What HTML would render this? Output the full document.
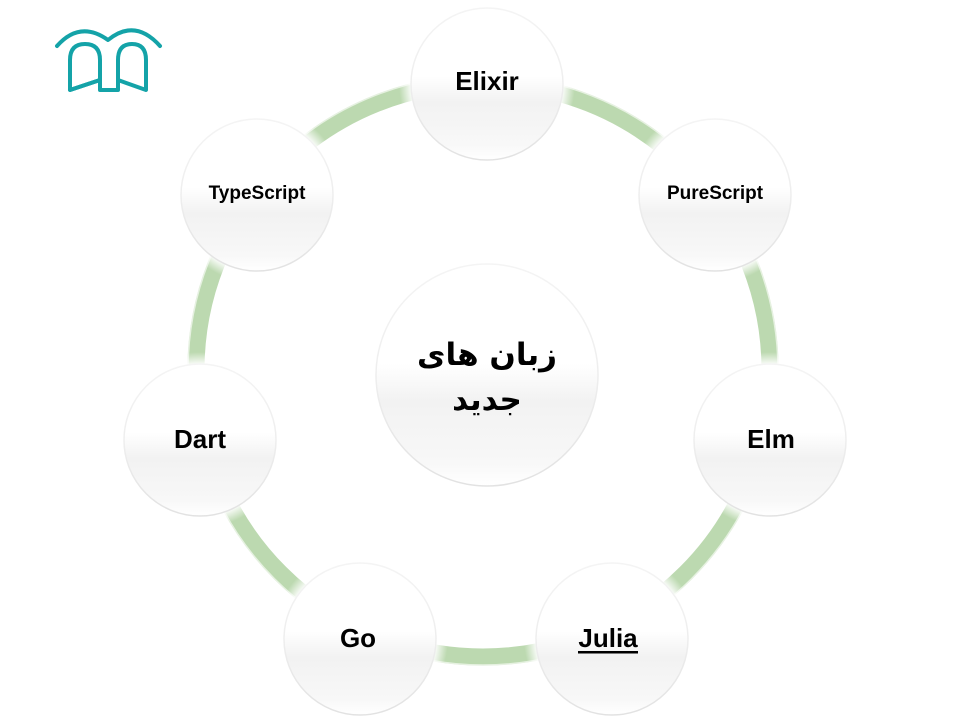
<!DOCTYPE html>
<html><head><meta charset="utf-8"><style>
html,body{margin:0;padding:0;background:#fff;width:960px;height:720px;overflow:hidden}
</style></head><body>
<svg width="960" height="720" viewBox="0 0 960 720" xmlns="http://www.w3.org/2000/svg">
<defs>
<linearGradient id="g" x1="0" y1="0" x2="0" y2="1">
<stop offset="0" stop-color="#ffffff"/><stop offset="0.45" stop-color="#ffffff"/><stop offset="0.62" stop-color="#f2f2f2"/><stop offset="0.9" stop-color="#f8f8f8"/><stop offset="1" stop-color="#ffffff"/>
</linearGradient>
<linearGradient id="e" x1="0" y1="0" x2="0" y2="1">
<stop offset="0" stop-color="#f4f4f4"/><stop offset="0.5" stop-color="#eeeeee"/><stop offset="1" stop-color="#e2e2e2"/>
</linearGradient>
<radialGradient id="h"><stop offset="0.85" stop-color="#fff" stop-opacity="1"/><stop offset="1" stop-color="#fff" stop-opacity="0"/></radialGradient>
</defs>
<g fill="none" stroke="#14a3a8" stroke-width="4" stroke-linecap="round" stroke-linejoin="round">
<path d="M57 46 Q80 20 108 40 Q135 18 160 46"/>
<path d="M70 90 L70 60 Q70 44 85 44 Q100 44 100 60 L100 80 Z" />
<path d="M70 90 L100 80 L100 90 L118 90 L118 80 L146 90 L146 60 Q146 44 132 44 Q118 44 118 60 L118 80"/>
</g>
<circle cx="483" cy="370" r="287" fill="none" stroke="#bcd9b0" stroke-width="17"/>
<circle cx="483" cy="370" r="295" fill="none" stroke="#e6f1e1" stroke-width="1.5"/>
<g stroke="url(#e)" stroke-width="1.5">
<g transform="translate(487,375)"><circle r="125" fill="url(#h)" stroke="none"/><circle r="111" fill="url(#g)"/></g>
<g transform="translate(487,84)"><circle r="88" fill="url(#h)" stroke="none"/><circle r="76" fill="url(#g)"/></g>
<g transform="translate(715,195)"><circle r="88" fill="url(#h)" stroke="none"/><circle r="76" fill="url(#g)"/></g>
<g transform="translate(770,440)"><circle r="88" fill="url(#h)" stroke="none"/><circle r="76" fill="url(#g)"/></g>
<g transform="translate(612,639)"><circle r="88" fill="url(#h)" stroke="none"/><circle r="76" fill="url(#g)"/></g>
<g transform="translate(360,639)"><circle r="88" fill="url(#h)" stroke="none"/><circle r="76" fill="url(#g)"/></g>
<g transform="translate(200,440)"><circle r="88" fill="url(#h)" stroke="none"/><circle r="76" fill="url(#g)"/></g>
<g transform="translate(257,195)"><circle r="88" fill="url(#h)" stroke="none"/><circle r="76" fill="url(#g)"/></g>
</g>
<g font-family="Liberation Sans, sans-serif" font-weight="bold" fill="#000" text-anchor="middle">
<text x="487" y="90" font-size="26">Elixir</text>
<text x="715" y="199" font-size="19">PureScript</text>
<text x="257" y="199" font-size="19">TypeScript</text>
<text x="771" y="448" font-size="26">Elm</text>
<text x="200" y="448" font-size="26">Dart</text>
<text x="358" y="647" font-size="26">Go</text>
<text x="608" y="647" font-size="26">Julia</text>
<rect x="578" y="651" width="60" height="2.5" fill="#000"/>
<text x="487" y="365" font-size="31" font-family="'DejaVu Sans', sans-serif" direction="rtl">زبان های</text>
<text x="487" y="410" font-size="31" font-family="'DejaVu Sans', sans-serif" direction="rtl">جدید</text>
</g>
</svg>
</body></html>
